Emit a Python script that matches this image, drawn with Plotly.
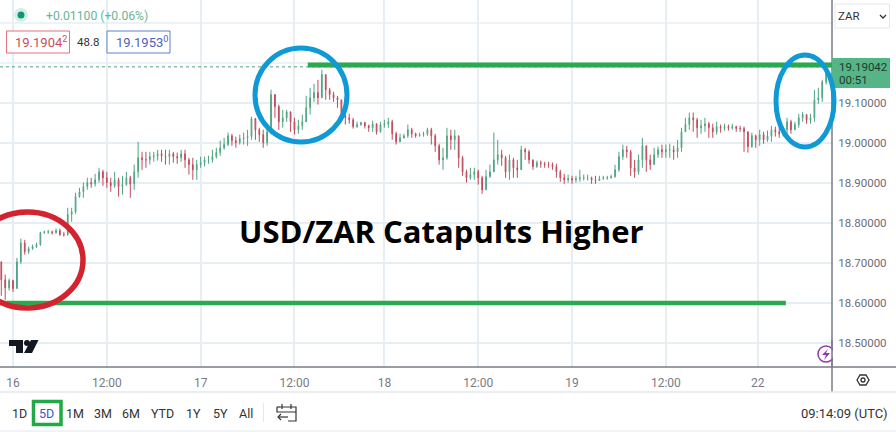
import plotly.graph_objects as go

close = [18.658,18.638,18.656,18.636,18.703,18.750,18.728,18.736,18.741,18.746,18.776,18.778,18.778,18.776,18.781,18.771,18.771,18.821,18.828,18.866,18.878,18.891,18.901,18.898,18.908,18.928,18.913,18.901,18.893,18.908,18.891,18.896,18.913,18.898,18.928,18.963,18.958,18.958,18.966,18.968,18.973,18.968,18.966,18.973,18.966,18.963,18.973,18.958,18.946,18.933,18.946,18.951,18.958,18.958,18.966,18.976,18.988,18.996,19.018,19.006,19.001,19.011,19.013,19.016,19.061,19.033,19.021,19.001,19.028,19.121,19.091,19.053,19.063,19.078,19.053,19.033,19.043,19.053,19.088,19.113,19.126,19.113,19.171,19.133,19.121,19.113,19.108,19.068,19.063,19.058,19.041,19.046,19.051,19.043,19.038,19.048,19.028,19.046,19.048,19.053,19.023,19.003,19.013,19.018,19.033,19.023,19.018,19.021,19.023,19.033,19.018,18.993,18.958,18.963,19.018,19.008,19.018,18.963,18.928,18.913,18.921,18.928,18.913,18.883,18.916,18.928,18.958,18.971,18.963,18.928,18.958,18.938,18.933,18.983,18.978,18.958,18.941,18.951,18.948,18.946,18.946,18.941,18.928,18.913,18.908,18.911,18.908,18.911,18.913,18.913,18.913,18.908,18.906,18.911,18.913,18.913,18.916,18.933,18.966,18.983,18.978,18.938,18.928,18.958,18.993,18.958,18.946,18.971,18.983,18.978,18.983,18.983,18.978,18.988,19.028,19.046,19.063,19.058,19.038,19.043,19.048,19.038,19.028,19.041,19.038,19.041,19.038,19.041,19.036,19.036,19.028,18.991,19.018,19.008,19.021,19.008,19.018,19.033,19.028,19.023,19.033,19.053,19.033,19.046,19.063,19.071,19.058,19.063,19.108,19.113,19.153,19.176]
high = [18.703,18.671,18.661,18.658,18.713,18.761,18.758,18.741,18.746,18.751,18.778,18.781,18.783,18.781,18.786,18.786,18.778,18.838,18.838,18.876,18.888,18.901,18.913,18.913,18.923,18.938,18.933,18.928,18.913,18.928,18.913,18.918,18.928,18.918,18.946,19.003,18.978,18.978,18.978,18.978,18.983,18.983,18.983,18.983,18.978,18.976,18.983,18.983,18.963,18.963,18.958,18.966,18.966,18.968,18.983,18.988,19.006,19.013,19.026,19.023,19.016,19.021,19.026,19.033,19.066,19.058,19.038,19.033,19.046,19.133,19.113,19.096,19.083,19.083,19.078,19.063,19.058,19.071,19.118,19.138,19.148,19.158,19.183,19.171,19.138,19.128,19.118,19.108,19.078,19.073,19.063,19.053,19.053,19.053,19.046,19.056,19.046,19.053,19.058,19.063,19.058,19.028,19.023,19.023,19.046,19.038,19.026,19.026,19.028,19.038,19.038,19.023,18.998,18.988,19.038,19.033,19.033,19.018,18.968,18.933,18.938,18.938,18.933,18.918,18.933,18.946,19.026,19.008,18.983,18.968,18.971,18.963,18.958,18.993,18.988,18.983,18.958,18.956,18.956,18.953,18.953,18.951,18.948,18.933,18.923,18.921,18.918,18.918,18.933,18.921,18.921,18.916,18.918,18.918,18.918,18.918,18.921,18.946,18.978,18.996,18.993,18.983,18.958,18.971,19.013,18.993,18.971,18.988,18.991,18.996,18.996,18.998,18.993,19.008,19.038,19.063,19.076,19.076,19.063,19.058,19.063,19.053,19.048,19.053,19.046,19.048,19.046,19.048,19.043,19.043,19.041,19.026,19.026,19.021,19.033,19.028,19.031,19.043,19.041,19.038,19.041,19.063,19.058,19.053,19.073,19.078,19.071,19.073,19.133,19.138,19.158,19.183]
low = [18.618,18.608,18.631,18.628,18.636,18.698,18.721,18.723,18.733,18.738,18.743,18.773,18.773,18.771,18.773,18.768,18.766,18.768,18.803,18.823,18.863,18.863,18.883,18.888,18.891,18.901,18.893,18.888,18.878,18.888,18.866,18.871,18.893,18.863,18.883,18.913,18.933,18.938,18.946,18.953,18.956,18.953,18.946,18.946,18.951,18.948,18.953,18.938,18.921,18.908,18.908,18.938,18.941,18.948,18.951,18.961,18.968,18.983,18.993,18.993,18.988,18.996,18.996,18.993,19.008,19.008,19.003,18.988,18.993,19.021,19.063,19.033,19.038,19.053,19.028,19.021,19.023,19.033,19.058,19.071,19.103,19.096,19.113,19.108,19.108,19.103,19.088,19.053,19.046,19.048,19.036,19.038,19.043,19.036,19.028,19.028,19.021,19.026,19.038,19.038,19.008,18.996,19.003,19.011,19.013,19.013,19.013,19.016,19.016,19.018,18.996,18.978,18.946,18.933,18.958,18.983,18.983,18.938,18.918,18.901,18.908,18.908,18.896,18.873,18.883,18.913,18.928,18.946,18.943,18.913,18.908,18.913,18.913,18.933,18.958,18.948,18.933,18.938,18.938,18.938,18.938,18.933,18.913,18.903,18.898,18.901,18.898,18.901,18.903,18.906,18.906,18.898,18.898,18.906,18.908,18.908,18.911,18.913,18.928,18.958,18.963,18.918,18.913,18.921,18.938,18.928,18.933,18.946,18.963,18.963,18.963,18.963,18.958,18.963,18.978,19.028,19.033,19.028,19.013,19.023,19.028,19.013,19.013,19.021,19.026,19.031,19.031,19.033,19.028,19.028,18.978,18.976,18.988,18.988,18.993,18.998,19.003,19.003,19.016,19.013,19.016,19.023,19.023,19.033,19.038,19.053,19.048,19.048,19.053,19.098,19.103,19.146]
first_open = 18.703
last_price = 19.19042
support = 18.60
resistance = 19.195
x_tick_vals = [0, 24, 48, 72, 95, 119, 143, 167, 190.5]
x_tick_text = ["16", "12:00", "17", "12:00", "18", "12:00", "19", "12:00", "22"]
y_ticks = [18.5, 18.6, 18.7, 18.8, 18.9, 19.0, 19.1]
y_grid_extra = [19.2, 19.3]
ranges = ["1D", "5D", "1M", "3M", "6M", "YTD", "1Y", "5Y", "All"]
range_x = [18, 46, 74, 102, 130, 161, 192, 219, 245]

n = min(len(close), len(high), len(low))
close, high, low = close[:n], high[:n], low[:n]
bars = list(range(-3, n - 3))
opens = [first_open] + close[:-1]

PW, PH = 832, 367
X = lambda p: p / PW
Y = lambda p: 1 - p / PH
GRID = "#e6eef3"
AXIS = "#787b86"
TXT = "#6a6d78"
GREEN = "#2aa94f"
BLUE = "#0f9ad6"

fig = go.Figure(go.Candlestick(
    x=bars, open=opens, high=high, low=low, close=close,
    increasing=dict(line=dict(color="#4fa383", width=1), fillcolor="#8cc7b0"),
    decreasing=dict(line=dict(color="#bf4a5a", width=1), fillcolor="#e69aa4"),
    whiskerwidth=0, hoverinfo="skip", showlegend=False,
))

shapes = []
def rect(x0, y0, x1, y1, fill="rgba(0,0,0,0)", line=None, w=1):
    shapes.append(dict(type="rect", xref="paper", yref="paper", x0=X(x0), x1=X(x1), y0=Y(y0), y1=Y(y1),
                       fillcolor=fill, line=dict(color=line or "rgba(0,0,0,0)", width=w if line else 0)))
def ell(x0, y0, x1, y1, line=None, w=5, fill="rgba(0,0,0,0)"):
    shapes.append(dict(type="circle", xref="paper", yref="paper", x0=X(x0), x1=X(x1), y0=Y(y0), y1=Y(y1),
                       fillcolor=fill, line=dict(color=line or "rgba(0,0,0,0)", width=w if line else 0)))
def seg(x0, y0, x1, y1, color, w=1):
    shapes.append(dict(type="line", xref="paper", yref="paper", x0=X(x0), x1=X(x1), y0=Y(y0), y1=Y(y1),
                       line=dict(color=color, width=w)))
def poly(pts, fill="rgba(0,0,0,0)", line=None, w=1, closed=True):
    d = "M " + " L ".join(f"{X(a):.5f},{Y(b):.5f}" for a, b in pts) + (" Z" if closed else "")
    shapes.append(dict(type="path", xref="paper", yref="paper", path=d, fillcolor=fill,
                       line=dict(color=line or "rgba(0,0,0,0)", width=w if line else 0)))

for v in y_grid_extra:
    shapes.append(dict(type="line", xref="paper", yref="y", x0=0, x1=1, y0=v, y1=v, layer="below",
                       line=dict(color=GRID, width=1.5)))
# dotted last price line and drawn levels
shapes.append(dict(type="line", xref="paper", yref="y", x0=0, x1=1, y0=last_price, y1=last_price,
                   line=dict(color="#4fa383", width=1, dash="dot")))
shapes.append(dict(type="line", xref="x", yref="y", x0=75.4, x1=209.5, y0=resistance, y1=resistance,
                   line=dict(color=GREEN, width=5)))
shapes.append(dict(type="line", xref="x", yref="y", x0=-3.4, x1=197.7, y0=support, y1=support,
                   line=dict(color=GREEN, width=4.5)))
# frame lines
seg(0, 367, 896, 367, AXIS, 1.5)
seg(832, 0, 832, 392, AXIS, 1.5)
seg(0, 392, 896, 392, "#e4e7ec", 1.5)
seg(0, 431, 896, 431, "#e4e7ec", 1)
# price tag, symbol box
rect(832, 58, 890, 88, fill="#55b587")
rect(835, 4, 889.5, 28, fill="#ffffff", line="#e6e8ee", w=1)
poly([(880, 15), (883, 18), (886, 15)], line="#333333", w=1.3, closed=False)
# header
ell(14, 8, 28, 22, fill="#d5eee8")
ell(17.5, 11.5, 24.5, 18.5, fill="#0f9678")
rect(6.5, 31, 69.5, 53, fill="#ffffff", line="#e0737f", w=1)
rect(107, 31, 170, 53, fill="#ffffff", line="#5f7fd0", w=1)
# drawn circles
ell(-28, 212, 83, 308, line="#d2232f", w=5.5)
ell(255, 48, 347, 142, line=BLUE, w=5)
ell(776, 55, 834, 147, line=BLUE, w=5)
# watermark logo
poly([(9, 340), (23, 340), (23, 353), (16, 353), (16, 346), (9, 346)], fill="#131722")
ell(24, 340, 30, 346, fill="#131722")
poly([(31, 340), (38.5, 340), (32, 353), (24, 353)], fill="#131722")
# lightning icon
ell(818, 346, 834, 362, line="#8e3aa8", w=1.5, fill="#ffffff")
poly([(828, 349), (822, 355), (826, 355), (824, 360), (830, 353), (826, 353)], fill="#8e3aa8")
rect(833, 340, 837, 366, fill="#ffffff")
seg(832, 340, 832, 367, AXIS, 1.5)
# gear icon
poly([(857, 380), (860, 375), (866, 375), (869, 380), (866, 385), (860, 385)], line="#333333", w=1.3)
ell(861, 378, 865, 382, line="#333333", w=1.3)
# toolbar
rect(33.5, 401.5, 61, 424.5, line="#22a846", w=3.5)
seg(263.5, 403, 263.5, 422, "#e4e7ec", 1)
poly([(280, 407), (296, 407), (296, 421), (288, 421)], line="#333333", w=1.2, closed=False)
poly([(288, 417), (278, 417)], line="#333333", w=1.2, closed=False)
poly([(281, 414), (278, 417), (281, 420)], line="#333333", w=1.2, closed=False)
poly([(277, 407), (280, 407)], line="#333333", w=1.2, closed=False)
poly([(277, 407), (277, 412), (296, 412)], line="#333333", w=1.2, closed=False)
seg(282, 404, 282, 409, "#333333", 1.2)
seg(291, 404, 291, 409, "#333333", 1.2)

ann = []
def text(x, y, s, size=12, color="#131722", anchor="left", family="Roboto", bold=False):
    ann.append(dict(xref="paper", yref="paper", x=X(x), y=Y(y), text=f"<b>{s}</b>" if bold else s,
                    showarrow=False, xanchor=anchor, yanchor="middle", align=anchor,
                    font=dict(family=family, size=size, color=color)))

text(43.5, 15.5, "+0.01100 (+0.06%)", 12.2, "#6ab598")
text(12.5, 42.5, "19.1904<sup>2</sup>", 13, "#cf4a58")
text(88, 42.5, "48.8", 11.5, "#333333", "center")
text(113.5, 42.5, "19.1953<sup>0</sup>", 13, "#4a63c0")
text(837, 67, f"{last_price:.5f}", 11.5, "#1d3a2c")
text(837, 80, "00:51", 11.5, "#1d3a2c")
text(836, 16, "ZAR", 11.5, "#333333")
text(441.5, 231, "USD/ZAR Catapults Higher", 31, "#000000", "center", "Open Sans", True)
for r, x in zip(ranges, range_x):
    text(x + (1 if r != "5D" else 0), 413, r, 12.5, "#3f57c8" if r == "5D" else "#333333", "center")
text(890, 413, "09:14:09 (UTC)", 13, "#333333", "right")

fig.update_layout(
    width=896, height=432, margin=dict(l=0, r=64, t=0, b=65),
    paper_bgcolor="#ffffff", plot_bgcolor="#ffffff", showlegend=False,
    shapes=shapes, annotations=ann, hovermode=False,
    font=dict(family="Roboto"), boxgap=0.72,
    xaxis=dict(range=[-3.33, 209.5], tickvals=x_tick_vals, ticktext=x_tick_text,
               showgrid=True, gridcolor=GRID, gridwidth=1.5, zeroline=False, showline=False,
               rangeslider=dict(visible=False), ticks="outside", ticklen=5, tickcolor="rgba(0,0,0,0)",
               tickfont=dict(size=12, color=AXIS, family="Roboto"), tickangle=0),
    yaxis=dict(side="right", range=[18.44, 19.3575], tickvals=y_ticks, tickformat=".5f",
               showgrid=True, gridcolor=GRID, gridwidth=1.5, zeroline=False, showline=False,
               ticks="outside", ticklen=3, tickcolor="rgba(0,0,0,0)",
               tickfont=dict(size=11.5, color=TXT, family="Roboto")),
)
fig.write_html("out.html", config=dict(displayModeBar=False),
               post_script="document.body.style.margin='0';document.body.style.overflow='hidden';")
print(len(close), len(high), len(low))
